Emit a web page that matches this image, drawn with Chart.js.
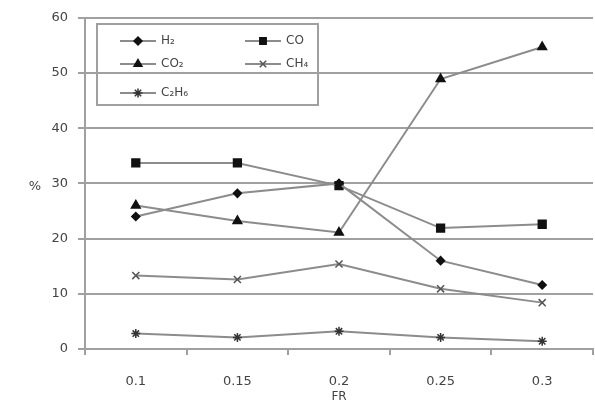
<!DOCTYPE html>
<html>
<head>
<meta charset="utf-8">
<script src="https://cdn.jsdelivr.net/npm/chart.js@4/dist/chart.umd.min.js"></script>
<style>
  html, body { margin: 0; padding: 0; background: #fff; overflow: hidden; }
  #wrap { width: 600px; height: 404px; }
</style>
</head>
<body>
<div id="wrap"><canvas id="chart" width="600" height="404"></canvas></div>
<script>
// Данные
const categories = ['0.1', '0.15', '0.2', '0.25', '0.3'];
const h2 = [24.0, 28.2, 30.0, 16.0, 11.6];
const co = [33.7, 33.7, 29.6, 21.9, 22.6];
const co2 = [26.0, 23.2, 21.1, 48.9, 54.7];
const ch4 = [13.3, 12.6, 15.4, 10.9, 8.4];
const c2h6 = [2.8, 2.1, 3.2, 2.1, 1.4];
const yTicks = [0, 10, 20, 30, 40, 50, 60];

const lineColor = '#8c8c8c';
const gridColor = '#a0a0a0';
const textColor = '#444';

function series(label, data, style, radius, fill) {
  return {
    label: label,
    data: data,
    borderColor: lineColor,
    borderWidth: 2,
    pointStyle: style,
    pointRadius: radius,
    pointBackgroundColor: fill,
    pointBorderColor: fill,
    pointBorderWidth: 1.5,
    tension: 0
  };
}

const datasets = [
  series('H₂', h2, 'rectRot', 4, '#111'),
  series('CO', co, 'rect', 5.5, '#111'),
  series('CO₂', co2, 'triangle', 5, '#111'),
  series('CH₄', ch4, 'crossRot', 5, '#555'),
  series('C₂H₆', c2h6, 'star', 4.5, '#333')
];

// Легенда в рамке внутри графика
const boxLegend = {
  id: 'boxLegend',
  afterDraw(chart) {
    const ctx = chart.ctx;
    ctx.save();
    ctx.strokeStyle = gridColor;
    ctx.lineWidth = 2;
    ctx.strokeRect(97, 24, 221, 81);
    const spots = [[120, 41], [245, 41], [120, 64], [245, 64], [120, 93]];
    chart.data.datasets.forEach((ds, i) => {
      const [x, y] = spots[i];
      ctx.strokeStyle = lineColor;
      ctx.lineWidth = 2;
      ctx.beginPath();
      ctx.moveTo(x, y);
      ctx.lineTo(x + 36, y);
      ctx.stroke();
      ctx.fillStyle = ds.pointBackgroundColor;
      ctx.strokeStyle = ds.pointBorderColor;
      ctx.lineWidth = 1.5;
      Chart.helpers.drawPoint(ctx, {
        pointStyle: ds.pointStyle,
        radius: Math.min(ds.pointRadius, 4.5),
        rotation: 0,
        borderWidth: 1.5
      }, x + 18, y);
      ctx.fillStyle = textColor;
      ctx.font = '12px "DejaVu Sans"';
      ctx.textAlign = 'left';
      ctx.textBaseline = 'middle';
      ctx.fillText(ds.label, x + 41, y);
    });
    // подпись оси Y
    ctx.fillStyle = textColor;
    ctx.font = '13px "DejaVu Sans"';
    ctx.textAlign = 'center';
    ctx.fillText('%', 35, chart.scales.y.getPixelForValue(30) + 3);
    ctx.restore();
  }
};

new Chart(document.getElementById('chart'), {
  type: 'line',
  data: { labels: categories, datasets: datasets },
  options: {
    responsive: false,
    animation: false,
    layout: { padding: { top: 7, right: 1, left: 0, bottom: 0 } },
    plugins: { legend: { display: false }, tooltip: { enabled: false } },
    scales: {
      x: {
        offset: true,
        grid: { offset: true, drawOnChartArea: false, color: gridColor, lineWidth: 2, tickLength: 6 },
        border: { color: gridColor, width: 2 },
        ticks: { color: textColor, font: { family: 'DejaVu Sans', size: 13 }, padding: 19, maxRotation: 0 },
        title: { display: true, text: 'FR', color: textColor, font: { family: 'DejaVu Sans', size: 12 }, padding: { top: 0, bottom: 0 } },
        afterFit(scale) { scale.height = 55; }
      },
      y: {
        min: 0,
        max: 60,
        afterBuildTicks(scale) { scale.ticks = yTicks.map(v => ({ value: v })); },
        grid: { color: gridColor, lineWidth: 2, tickLength: 7 },
        border: { color: gridColor, width: 2 },
        ticks: { color: textColor, font: { family: 'DejaVu Sans', size: 13 }, padding: 10 },
        afterFit(scale) { scale.width = 85; }
      }
    }
  },
  plugins: [boxLegend]
});
</script>
</body>
</html>
